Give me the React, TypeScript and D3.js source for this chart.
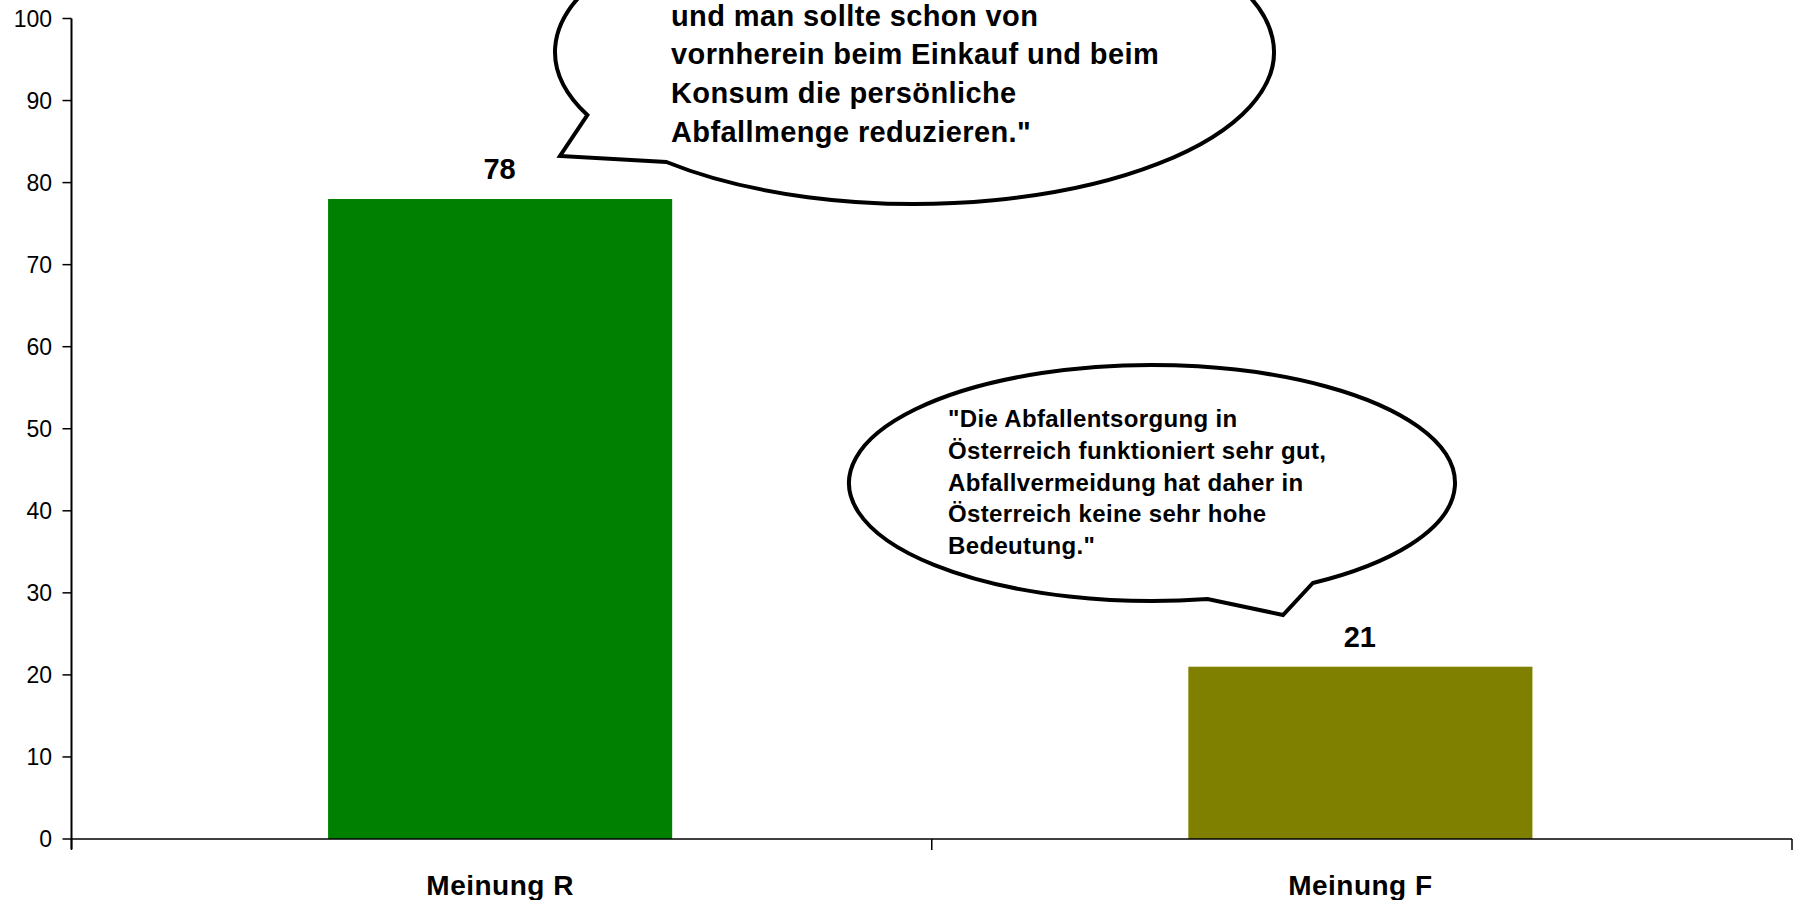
import * as d3 from "d3";
import { useEffect, useRef } from "react";

const categories = ["Meinung R", "Meinung F"];
const values = [78, 21];
const barColors = ["#008000", "#808000"];
const yTicks = [0, 10, 20, 30, 40, 50, 60, 70, 80, 90, 100];

const quoteR = [
  "und man sollte schon von",
  "vornherein beim Einkauf und beim",
  "Konsum die persönliche",
  'Abfallmenge reduzieren."',
];
const quoteF = [
  '"Die Abfallentsorgung in',
  "Österreich funktioniert sehr gut,",
  "Abfallvermeidung hat daher in",
  "Österreich keine sehr hohe",
  'Bedeutung."',
];

const FONT = "'Liberation Sans', Arial, sans-serif";

// speech bubble: ellipse with a pointed tail between two points on the ellipse
const bubblePath = (cx, cy, rx, ry, a1, a2, tip) => {
  const p = (a) => [cx + rx * Math.cos(a), cy + ry * Math.sin(a)];
  const [x1, y1] = p(a1);
  const [x2, y2] = p(a2);
  return `M${x2},${y2} A${rx},${ry} 0 1 0 ${x1},${y1} L${tip[0]},${tip[1]} Z`;
};

// angle on the ellipse for a given y, on the left (-1) or right (+1) side
const angleAt = (cy, ry, y, side) => {
  const s = (y - cy) / ry;
  return Math.atan2(s, side * Math.sqrt(1 - s * s));
};

const BarChart = ({ width, height }) => {
  const svgRef = useRef();

  useEffect(() => {
    const margin = { top: 18.5, right: 7, bottom: 61, left: 71.5 };
    const svg = d3.select(svgRef.current);
    svg.selectAll("*").remove();

    const xScale = d3
      .scaleBand()
      .domain(categories)
      .range([margin.left, width - margin.right])
      .paddingInner(0.6)
      .paddingOuter(0.3);

    const yScale = d3
      .scaleLinear()
      .domain([0, 100])
      .range([height - margin.bottom, margin.top]);

    const step = xScale.step();
    const rows = categories.map((c, i) => ({ cat: c, value: values[i], color: barColors[i] }));

    // bars
    svg
      .selectAll(".bar")
      .data(rows)
      .enter()
      .append("rect")
      .attr("class", "bar")
      .attr("x", (d) => xScale(d.cat) - 1.5)
      .attr("y", (d) => yScale(d.value))
      .attr("width", xScale.bandwidth())
      .attr("height", (d) => yScale(0) - yScale(d.value))
      .attr("fill", (d) => d.color);

    // value labels
    svg
      .selectAll(".valueLabel")
      .data(rows)
      .enter()
      .append("text")
      .attr("x", (d) => xScale(d.cat) + xScale.bandwidth() / 2 - 2)
      .attr("y", (d) => yScale(d.value) - 20)
      .attr("text-anchor", "middle")
      .attr("font-family", FONT)
      .attr("font-weight", "bold")
      .attr("font-size", 29)
      .attr("fill", "#000")
      .text((d) => d.value);

    // y axis
    const yAxis = svg.append("g");
    yAxis
      .append("line")
      .attr("x1", margin.left)
      .attr("x2", margin.left)
      .attr("y1", yScale(100))
      .attr("y2", yScale(0) + 10)
      .attr("stroke", "#000")
      .attr("stroke-width", 2);
    yAxis
      .selectAll(".ytick")
      .data(yTicks)
      .enter()
      .append("line")
      .attr("x1", margin.left - 9)
      .attr("x2", margin.left)
      .attr("y1", (d) => yScale(d))
      .attr("y2", (d) => yScale(d))
      .attr("stroke", "#000")
      .attr("stroke-width", 1.5);
    yAxis
      .selectAll(".ylabel")
      .data(yTicks)
      .enter()
      .append("text")
      .attr("x", margin.left - 19.5)
      .attr("y", (d) => yScale(d))
      .attr("dy", "0.36em")
      .attr("text-anchor", "end")
      .attr("font-family", FONT)
      .attr("font-size", 23)
      .attr("fill", "#000")
      .text((d) => d);

    // x axis
    const xAxis = svg.append("g");
    xAxis
      .append("line")
      .attr("x1", margin.left)
      .attr("x2", width - margin.right)
      .attr("y1", yScale(0))
      .attr("y2", yScale(0))
      .attr("stroke", "#000")
      .attr("stroke-width", 1.5);
    const bounds = d3.range(categories.length + 1).map((i) => margin.left + i * step);
    xAxis
      .selectAll(".xtick")
      .data(bounds)
      .enter()
      .append("line")
      .attr("x1", (d) => d)
      .attr("x2", (d) => d)
      .attr("y1", yScale(0))
      .attr("y2", yScale(0) + 11)
      .attr("stroke", "#000")
      .attr("stroke-width", 1.5);
    xAxis
      .selectAll(".xlabel")
      .data(categories)
      .enter()
      .append("text")
      .attr("x", (d) => xScale(d) + xScale.bandwidth() / 2 - 1.5)
      .attr("y", yScale(0) + 56)
      .attr("text-anchor", "middle")
      .attr("font-family", FONT)
      .attr("font-weight", "bold")
      .attr("font-size", 28)
      .attr("letter-spacing", 0.5)
      .attr("fill", "#000")
      .text((d) => d);

    // speech bubbles
    const bubbles = [
      {
        cx: 914.5, cy: 52, rx: 359.5, ry: 152,
        a1: angleAt(52, 152, 115, -1),
        a2: angleAt(52, 152, 162, -1),
        tip: [560, 156],
        lines: quoteR, tx: 671, ty: 25.6, lh: 38.7, fs: 29, ls: 0.4,
      },
      {
        cx: 1152, cy: 483, rx: 303, ry: 118,
        a1: angleAt(483, 118, 599, 1),
        a2: angleAt(483, 118, 583, 1),
        tip: [1283, 615],
        lines: quoteF, tx: 948, ty: 427, lh: 31.8, fs: 24, ls: 0.35,
      },
    ];

    bubbles.forEach((b) => {
      const g = svg.append("g");
      g.append("path")
        .attr("d", bubblePath(b.cx, b.cy, b.rx, b.ry, b.a1, b.a2, b.tip))
        .attr("fill", "#fff")
        .attr("stroke", "#000")
        .attr("stroke-width", 4)
        .attr("stroke-linejoin", "miter");
      g.selectAll("text")
        .data(b.lines)
        .enter()
        .append("text")
        .attr("x", b.tx)
        .attr("y", (d, i) => b.ty + i * b.lh)
        .attr("font-family", FONT)
        .attr("font-weight", "bold")
        .attr("font-size", b.fs)
        .attr("letter-spacing", b.ls)
        .attr("fill", "#000")
        .text((d) => d);
    });
  }, [width, height]);

  return (
    <svg
      ref={svgRef}
      width={width}
      height={height}
      style={{ position: "absolute", left: 0, top: 0, background: "#fff" }}
    ></svg>
  );
};

export default function App() {
  return <BarChart width={1799} height={900} />;
}
